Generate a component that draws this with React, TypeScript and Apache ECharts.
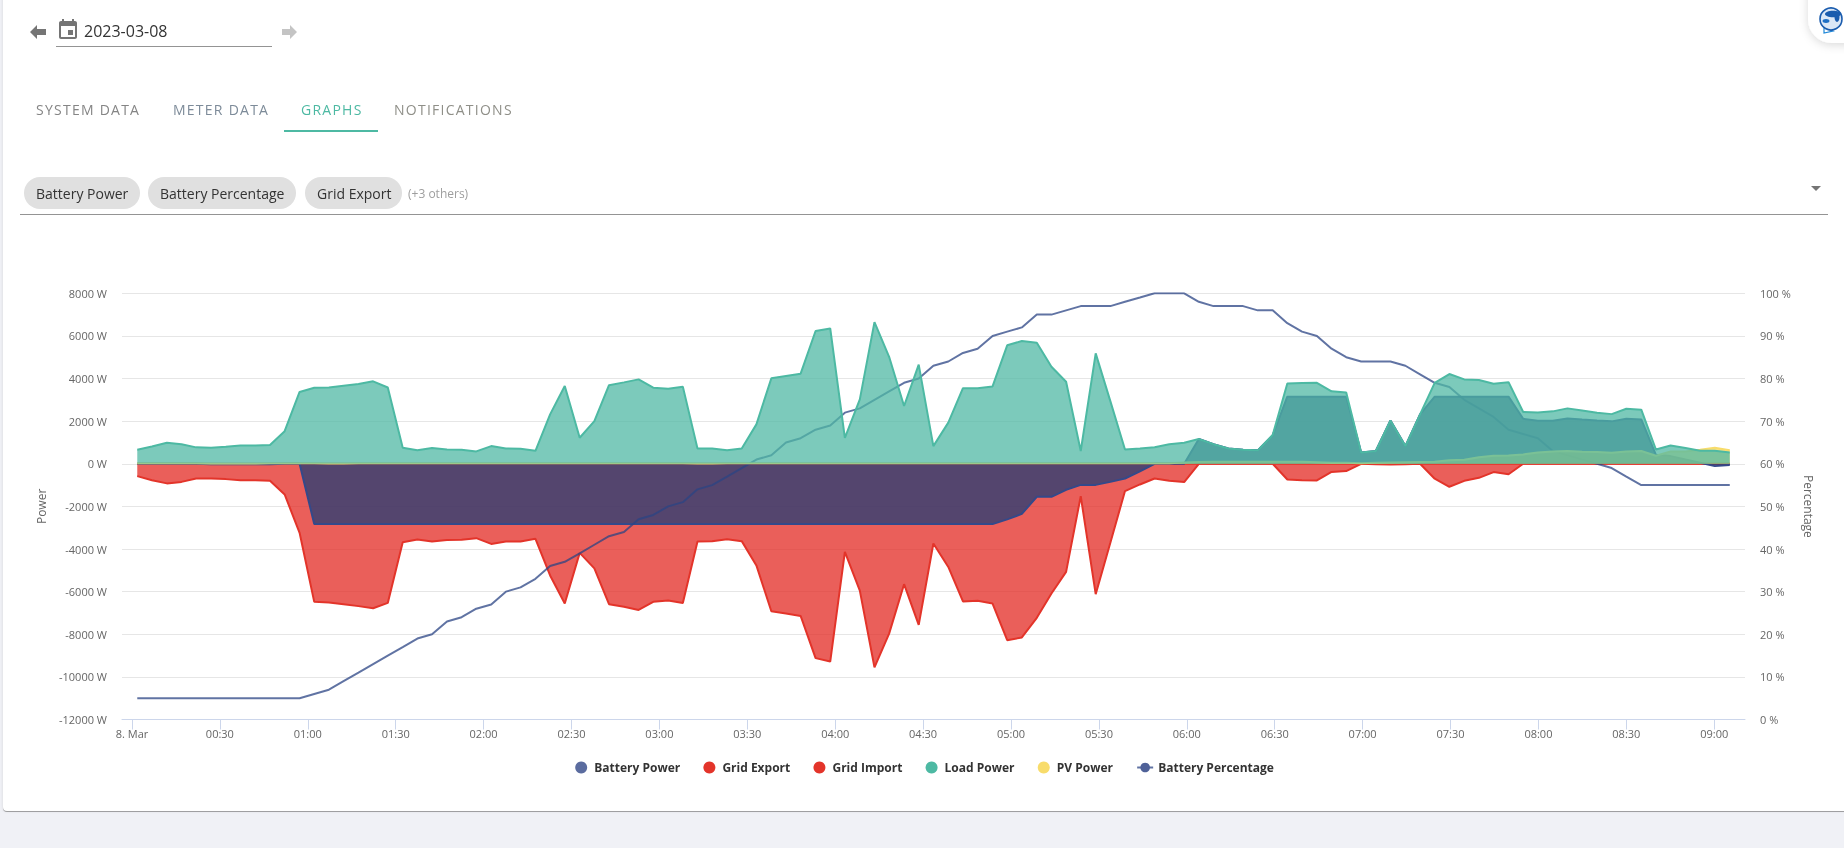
import React, { useEffect, useRef } from "react";
import * as echarts from "echarts";

const FONT = '"Open Sans", "Noto Sans", sans-serif';

const tickMinutes = [0, 30, 60, 90, 120, 150, 180, 210, 240, 270, 300, 330, 360, 390, 420, 450, 480, 510, 540];
const tickLabels = ["8. Mar", "00:30", "01:00", "01:30", "02:00", "02:30", "03:00", "03:30", "04:00", "04:30", "05:00", "05:30", "06:00", "06:30", "07:00", "07:30", "08:00", "08:30", "09:00"];

const times = [
  1.8, 6.8, 11.9, 16.9, 21.9, 27.0, 32.0, 37.0, 42.1, 47.1, 52.1, 57.2, 62.2, 67.2, 72.2, 77.3, 82.3, 87.3, 92.4, 97.4,
  102.4, 107.5, 112.5, 117.5, 122.6, 127.6, 132.6, 137.7, 142.7, 147.7, 152.8, 157.8, 162.8, 167.9, 172.9, 177.9, 183.0, 188.0, 193.0, 198.0,
  203.1, 208.1, 213.1, 218.2, 223.2, 228.2, 233.3, 238.3, 243.3, 248.4, 253.4, 258.4, 263.5, 268.5, 273.5, 278.6, 283.6, 288.6, 293.7, 298.7,
  303.7, 308.8, 313.8, 318.8, 323.8, 328.9, 333.9, 338.9, 344.0, 349.0, 354.0, 359.1, 364.1, 369.1, 374.2, 379.2, 384.2, 389.3, 394.3, 399.3,
  404.4, 409.4, 414.4, 419.5, 424.5, 429.5, 434.6, 439.6, 444.6, 449.6, 454.7, 459.7, 464.7, 469.8, 474.8, 479.8, 484.9, 489.9, 494.9, 500.0,
  505.0, 510.0, 515.1, 520.1, 525.1, 530.2, 535.2, 540.2, 545.3,
];

const loadPower = [
  660, 810, 990, 920, 770, 750, 800, 860, 860, 880, 1530, 3370, 3570, 3580, 3660, 3740, 3870, 3580, 750, 630,
  740, 670, 660, 580, 830, 720, 700, 610, 2320, 3650, 1220, 2000, 3690, 3820, 3960, 3570, 3520, 3620, 720, 720,
  630, 720, 1850, 4010, 4120, 4230, 6230, 6350, 1220, 3020, 6650, 5020, 2710, 4650, 830, 1930, 3550, 3540, 3630, 5560,
  5760, 5680, 4550, 3850, 600, 5180, 2940, 670, 720, 780, 920, 990, 1160, 920, 720, 660, 630, 1350, 3770, 3790,
  3800, 3400, 3350, 530, 600, 2030, 830, 2320, 3800, 4210, 3960, 3930, 3760, 3830, 2430, 2410, 2460, 2600, 2500, 2390,
  2330, 2580, 2540, 670, 860, 740, 610, 610, 530,
];

const gridImport = [
  -580, -770, -920, -850, -690, -690, -720, -770, -770, -800, -1440, -3240, -6480, -6510, -6590, -6680, -6780, -6530, -3680, -3550,
  -3650, -3580, -3570, -3490, -3760, -3650, -3650, -3520, -5240, -6560, -4180, -4910, -6590, -6710, -6860, -6480, -6420, -6530, -3650, -3630,
  -3540, -3630, -4770, -6920, -7030, -7140, -9120, -9280, -4130, -5950, -9550, -7970, -5650, -7560, -3740, -4840, -6460, -6430, -6560, -8280,
  -8150, -7230, -6090, -5070, -1520, -6120, -3710, -1280, -970, -690, -800, -860, 0, 0, 0, 0, 0, 0, -740, -770,
  -780, -380, -340, 0, -20, -30, -20, 0, -700, -1080, -800, -660, -390, -490, 0, 0, 0, 0, 0, 0,
  0, 0, 0, 0, 0, 0, 0, 0, 0,
];

const gridExport = [
  0, 0, 0, 0, 0, 0, 0, 0, 0, 0, 0, 0, 0, 0, 0, 0, 0, 0, 0, 0,
  0, 0, 0, 0, 0, 0, 0, 0, 0, 0, 0, 0, 0, 0, 0, 0, 0, 0, 0, 0,
  0, 0, 0, 0, 0, 0, 0, 0, 0, 0, 0, 0, 0, 0, 0, 0, 0, 0, 0, 0,
  0, 0, 0, 0, 0, 0, 0, 0, 0, 0, 0, 0, 0, 0, 0, 0, 0, 0, 0, 0,
  0, 0, 0, 0, 0, 0, 0, 0, 0, 0, 0, 0, 0, 0, 0, 0, 0, 0, 0, 0,
  0, 0, 0, 0, 0, 0, 0, 0, 0,
];

const batteryPower = [
  0, 0, 0, 0, 0, -20, -20, -20, -20, -20, 0, 0, -2830, -2830, -2830, -2830, -2830, -2830, -2830, -2830,
  -2830, -2830, -2830, -2830, -2830, -2830, -2830, -2830, -2830, -2830, -2830, -2830, -2830, -2830, -2830, -2830, -2830, -2830, -2830, -2830,
  -2830, -2830, -2830, -2830, -2830, -2830, -2830, -2830, -2830, -2830, -2830, -2830, -2830, -2830, -2830, -2830, -2830, -2830, -2830, -2610,
  -2350, -1550, -1550, -1220, -990, -990, -850, -690, -360, 0, 0, 0, 1160, 920, 720, 660, 630, 1330, 3150, 3150,
  3150, 3150, 3150, 530, 600, 2030, 830, 2320, 3150, 3150, 3150, 3150, 3150, 3150, 2110, 2020, 2020, 2130, 2080, 2030,
  1990, 2110, 2080, 420, 360, 200, 50, -110, -60,
];

const pvPower = [
  20, 20, 20, 20, 20, 10, 10, 10, 10, 20, 20, 20, 20, 10, 10, 20, 20, 30, 30, 20,
  20, 20, 20, 20, 20, 30, 30, 20, 20, 20, 20, 20, 20, 20, 20, 20, 20, 20, 10, 10,
  20, 30, 20, 20, 30, 30, 30, 30, 20, 20, 20, 20, 30, 30, 30, 30, 20, 20, 20, 20,
  30, 30, 30, 30, 20, 20, 20, 20, 20, 20, 30, 60, 80, 90, 90, 90, 90, 90, 90, 90,
  70, 50, 50, 30, 50, 60, 70, 80, 90, 170, 190, 310, 380, 390, 440, 530, 580, 600, 560, 550,
  520, 580, 600, 380, 580, 580, 660, 750, 640,
];

const batteryPercentage = [
  5, 5, 5, 5, 5, 5, 5, 5, 5, 5, 5, 5, 6, 7, 9, 11, 13, 15, 17, 19,
  20, 23, 24, 26, 27, 30, 31, 33, 36, 37, 39, 41, 43, 44, 47, 48, 50, 51, 54, 55,
  57, 59, 61, 62, 65, 66, 68, 69, 72, 73, 75, 77, 79, 80, 83, 84, 86, 87, 90, 91,
  92, 95, 95, 96, 97, 97, 97, 98, 99, 100, 100, 100, 98, 97, 97, 97, 96, 96, 93, 91,
  90, 87, 85, 84, 84, 84, 83, 81, 79, 78, 75, 73, 71, 68, 67, 66, 63, 62, 61, 60,
  59, 57, 55, 55, 55, 55, 55, 55, 55,
];

const legendNames = ["Battery Power", "Grid Export", "Grid Import", "Load Power", "PV Power", "Battery Percentage"];
const chipLabels = ["Battery Power", "Battery Percentage", "Grid Export"];
const tabLabels = ["SYSTEM DATA", "METER DATA", "GRAPHS", "NOTIFICATIONS"];

const pts = (v: number[]) => v.map((y, i) => [times[i], y]);

function areaSeries(name: string, data: number[], color: string, lineColor: string, legendColor: string, z: number, width = 2) {
  return {
    name,
    type: "line",
    yAxisIndex: 0,
    data: pts(data),
    z,
    showSymbol: false,
    symbol: "circle",
    silent: true,
    itemStyle: { color: legendColor },
    lineStyle: { color: lineColor, width, opacity: 1 },
    areaStyle: { color, opacity: 0.75, origin: "auto" },
  };
}

export default function App() {
  const ref = useRef<HTMLDivElement>(null);
  useEffect(() => {
    const el = ref.current!;
    echarts.graphic.registerShape(
      "eventIcon",
      echarts.graphic.extendPath(
        "M17 12h-5v5h5v-5zM16 1v2H8V1H6v2H5c-1.11 0-1.99.9-1.99 2L3 19c0 1.1.89 2 2 2h14c1.1 0 2-.9 2-2V5c0-1.1-.9-2-2-2h-1V1h-2zm3 18H5V8h14v11z",
        {}
      )
    );
    const chart = echarts.init(el, undefined, { renderer: "svg" });

    const text = (t: string, x: number, y: number, fontSize: number, fill: string, extra: any = {}) => ({
      type: "text",
      x,
      y,
      z: 20,
      silent: true,
      style: { text: t, fontFamily: FONT, fontSize, fill, verticalAlign: "middle", ...extra },
    });
    const chipBoxes = [
      [24, 116, 36],
      [148, 148, 160],
      [305, 97, 317],
    ];
    const tabX = [36, 173, 301, 394];
    const tabColors = ["#858585", "#7d8b99", "#4db9a3", "#8f8f88"];

    const graphic: any[] = [
      { type: "rect", silent: true, z: 0, shape: { x: 0, y: 0, width: 1844, height: 848 }, style: { fill: "#f0f1f6" } },
      {
        type: "rect",
        silent: true,
        z: 0,
        shape: { x: 3, y: -10, width: 1851, height: 822, r: 4 },
        style: { fill: "#a6a6a8" },
      },
      {
        type: "rect",
        silent: true,
        z: 0,
        shape: { x: 3, y: -10, width: 1851, height: 821, r: 4 },
        style: { fill: "#ffffff", shadowBlur: 3, shadowColor: "rgba(0,0,0,0.12)" },
      },
      // date row
      { type: "polygon", silent: true, z: 20, shape: { points: [[30, 32], [37, 25], [37, 29], [46, 29], [46, 35], [37, 35], [37, 39]] }, style: { fill: "#757575" } },
      { type: "eventIcon", silent: true, z: 20, x: 56, y: 18, style: { fill: "#757575" } },
      text("2023-03-08", 84, 30.5, 16, "#333333"),
      { type: "rect", silent: true, z: 20, shape: { x: 56, y: 46, width: 216, height: 1 }, style: { fill: "#949494" } },
      { type: "polygon", silent: true, z: 20, shape: { points: [[297, 32], [290, 25], [290, 29], [282, 29], [282, 35], [290, 35], [290, 39]] }, style: { fill: "#c4c4c4" } },
      // tabs
      ...tabLabels.map((t, i) => text(t, tabX[i], 109, 14, tabColors[i])),
      { type: "rect", silent: true, z: 20, shape: { x: 284, y: 130, width: 94, height: 2 }, style: { fill: "#4db9a3" } },
      // chips
      ...chipLabels.flatMap((t, i) => [
        { type: "rect", silent: true, z: 20, shape: { x: chipBoxes[i][0], y: 177, width: chipBoxes[i][1], height: 32, r: 16 }, style: { fill: "#e0e0e0" } },
        text(t, chipBoxes[i][2], 193, 14, "#333333"),
      ]),
      text("(+3 others)", 408, 193, 12, "#9e9e9e"),
      { type: "polygon", silent: true, z: 20, shape: { points: [[1811, 186], [1821, 186], [1816, 191]] }, style: { fill: "#757575" } },
      { type: "rect", silent: true, z: 20, shape: { x: 20, y: 214, width: 1808, height: 1 }, style: { fill: "#949494" } },
      // chat button
      {
        type: "rect",
        silent: true,
        z: 20,
        shape: { x: 1808, y: -26, width: 70, height: 69, r: 24 },
        style: { fill: "#ffffff", shadowBlur: 10, shadowColor: "rgba(0,0,0,0.15)", shadowOffsetY: 2 },
      },
      { type: "polygon", silent: true, z: 21, shape: { points: [[1824, 27], [1824, 33], [1833, 31]] }, style: { fill: "#ffffff", stroke: "#1e88d8", lineWidth: 1.2 } },
      { type: "circle", silent: true, z: 21, shape: { cx: 1831, cy: 19, r: 11 }, style: { fill: "#dbe7f6", stroke: "#1a5cae", lineWidth: 1.6 } },
      { type: "ellipse", silent: true, z: 22, shape: { cx: 1833, cy: 14, rx: 8, ry: 3.2 }, style: { fill: "#1a5cae" } },
      { type: "ellipse", silent: true, z: 22, shape: { cx: 1837, cy: 17, rx: 2.5, ry: 5 }, style: { fill: "#1a5cae" } },
      { type: "ellipse", silent: true, z: 22, shape: { cx: 1826, cy: 21, rx: 3.5, ry: 2 }, style: { fill: "#1e6fc4" } },
    ];

    chart.setOption({
      animation: false,
      backgroundColor: "transparent",
      textStyle: { fontFamily: FONT },
      graphic: { elements: graphic },
      legend: {
        left: 575.2,
        top: 761.5,
        padding: 0,
        itemWidth: 16,
        itemHeight: 12,
        itemGap: 23.2,
        selectedMode: false,
        textStyle: { fontFamily: FONT, fontSize: 12, fontWeight: "bold", color: "#333333" },
        data: legendNames.map((name, i) => (i < 5 ? { name, icon: "circle" } : { name })),
      },
      grid: { left: 122, top: 293.3, width: 1623, height: 426.2 },
      xAxis: {
        type: "value",
        min: -3.41,
        max: 550.5,
        splitLine: { show: false },
        axisLine: { show: true, onZero: false, lineStyle: { color: "#ccd6eb", width: 1 } },
        axisTick: { show: true, length: 10, lineStyle: { color: "#ccd6eb" }, customValues: tickMinutes },
        axisLabel: {
          margin: 8,
          fontFamily: FONT,
          fontSize: 11,
          color: "#666666",
          customValues: tickMinutes,
          hideOverlap: false,
          formatter: (v: number) => tickLabels[tickMinutes.indexOf(Math.round(v))] ?? "",
        },
      },
      yAxis: [
        {
          type: "value",
          min: -12000,
          max: 8000,
          interval: 2000,
          name: "Power",
          nameLocation: "middle",
          nameGap: 75,
          nameTextStyle: { fontFamily: FONT, fontSize: 12, color: "#666666" },
          axisLine: { show: false },
          axisTick: { show: false },
          splitLine: { lineStyle: { color: "#e6e6e6", width: 1 } },
          axisLabel: { margin: 15, fontFamily: FONT, fontSize: 11, color: "#666666", formatter: (v: number) => `${v} W` },
        },
        {
          type: "value",
          min: 0,
          max: 100,
          interval: 10,
          position: "right",
          name: "Percentage",
          nameLocation: "middle",
          nameRotate: -90,
          nameGap: 57,
          nameTextStyle: { fontFamily: FONT, fontSize: 12, color: "#666666" },
          axisLine: { show: false },
          axisTick: { show: false },
          splitLine: { show: false },
          axisLabel: { margin: 15, fontFamily: FONT, fontSize: 11, color: "#666666", formatter: (v: number) => `${v} %` },
        },
      ],
      series: [
        areaSeries("Battery Power", batteryPower, "#223c76", "#34498a", "#5b6c9f", 4),
        areaSeries("Grid Export", gridExport, "#e32923", "#e3342a", "#e3342a", 3),
        areaSeries("Grid Import", gridImport, "#e32923", "#e3342a", "#e3342a", 2),
        areaSeries("Load Power", loadPower, "#50b8a4", "#4db9a3", "#4db9a3", 7),
        areaSeries("PV Power", pvPower, "#f8d85a", "#f8dc6b", "#f8dc6b", 6),
        {
          name: "Battery Percentage",
          type: "line",
          yAxisIndex: 1,
          data: pts(batteryPercentage),
          z: 5,
          showSymbol: false,
          symbol: "circle",
          symbolSize: 8,
          silent: true,
          itemStyle: { color: "#4f6198" },
          lineStyle: { color: "#2b4484", opacity: 0.75, width: 2 },
        },
      ],
    });

    el.querySelectorAll("text").forEach((n) => {
      if (tabLabels.includes((n.textContent || "").trim())) (n as any).style.letterSpacing = "1.25px";
    });

    return () => chart.dispose();
  }, []);
  return <div ref={ref} style={{ position: "fixed", left: 0, top: 0, width: 1844, height: 848 }} />;
}
